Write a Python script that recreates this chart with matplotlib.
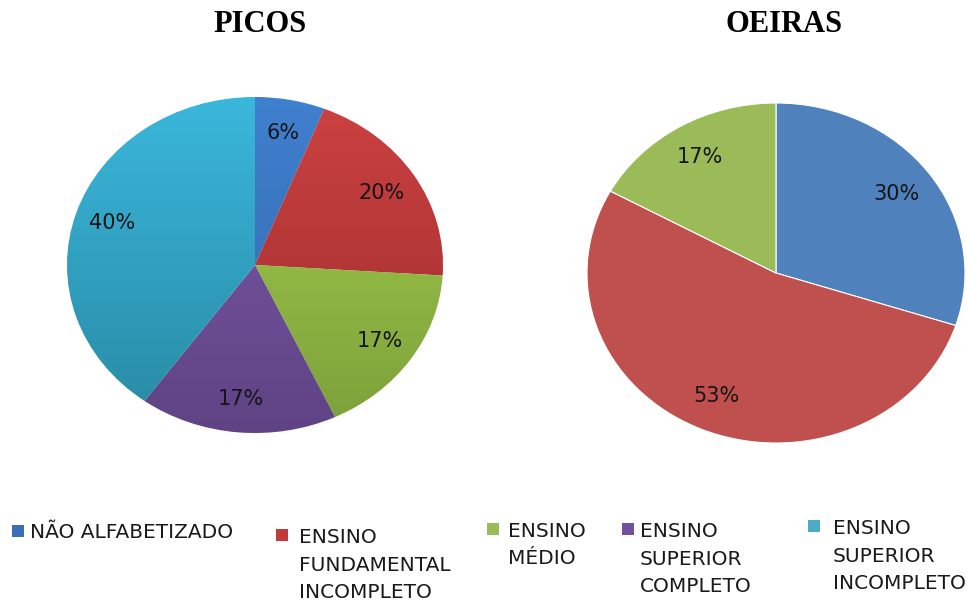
import matplotlib
matplotlib.use("Agg")
import matplotlib.pyplot as plt
import numpy as np
from matplotlib.patches import Rectangle
from matplotlib.colors import to_rgba

# ---- data ----
categories = ["NÃO ALFABETIZADO", "ENSINO\nFUNDAMENTAL\nINCOMPLETO", "ENSINO\nMÉDIO",
              "ENSINO\nSUPERIOR\nCOMPLETO", "ENSINO\nSUPERIOR\nINCOMPLETO"]
picos_values = [6, 20, 17, 17, 40]
oeiras_values = [30, 53, 17, 0, 0]
titles = ["PICOS", "OEIRAS"]

# ---- style ----
base_colors = ["#4F81BD", "#C0504D", "#9BBB59", "#8064A2", "#4BACC6"]
legend_colors = ["#3A6DB5", "#C23A3A", "#9BBB59", "#7050A0", "#4BACC6"]
grad_top = ["#3F80CF", "#CC4242", "#A6CE4E", "#7E5BAB", "#3AB7DC"]
grad_bot = ["#3366AA", "#9C2B2B", "#7CA03A", "#5F4384", "#2889A3"]

W, H = 967, 603
fig = plt.figure(figsize=(W / 100, H / 100), dpi=100)
fig.patch.set_facecolor("white")


def ax_px(left, top, right, bottom):
    return fig.add_axes([left / W, 1 - bottom / H, (right - left) / W, (bottom - top) / H])


def fpx(x, y):
    return x / W, 1 - y / H


label_font = dict(fontsize=15, color="#151515", family="DejaVu Sans")

# ---- PICOS ----
ax1 = ax_px(67, 97, 443, 433)
wedges1, texts1, auto1 = ax1.pie(
    picos_values, colors=base_colors, startangle=90, counterclock=False,
    autopct=lambda p: f"{p:.0f}%", pctdistance=0.8, radius=1,
    wedgeprops=dict(edgecolor="white", linewidth=0.8), textprops=label_font)
for i, w in enumerate(wedges1):
    top = np.array(to_rgba(grad_top[i]))
    bot = np.array(to_rgba(grad_bot[i]))
    t = np.linspace(0, 1, 256)[:, None]
    img = (top[None, :] * (1 - t) + bot[None, :] * t)[:, None, :]
    im = ax1.imshow(img, extent=(-1, 1, -1, 1), aspect="auto", zorder=w.get_zorder() + 0.1,
                    interpolation="bilinear")
    im.set_clip_path(w)
for a in auto1:
    a.set_zorder(5)
ax1.set_xlim(-1, 1)
ax1.set_ylim(-1, 1)
ax1.set_aspect("auto")
ax1.axis("off")

# ---- OEIRAS ----
ax2 = ax_px(587, 103, 965, 443)
o_vals = [v for v in oeiras_values if v > 0]
o_cols = [c for v, c in zip(oeiras_values, base_colors) if v > 0]
wedges2, texts2, auto2 = ax2.pie(
    o_vals, colors=o_cols, startangle=90, counterclock=False,
    autopct=lambda p: f"{p:.0f}%", pctdistance=0.79, radius=1,
    wedgeprops=dict(edgecolor="white", linewidth=0.8), textprops=label_font)
ax2.set_xlim(-1, 1)
ax2.set_ylim(-1, 1)
ax2.set_aspect("auto")
ax2.axis("off")

# ---- titles ----
fig.text(*fpx(260, 25), titles[0], ha="center", va="center", fontsize=22,
         fontweight="bold", family="Liberation Serif")
fig.text(*fpx(784, 25), titles[1], ha="center", va="center", fontsize=22,
         fontweight="bold", family="Liberation Serif")

# ---- legend (manual layout) ----
key_pos = [(12, 525), (276, 529), (487, 523), (622, 523), (808, 520)]
text_pos = [(30, 538), (299, 542), (508, 536), (640, 536), (833, 533)]
line_gap = 28
ks = 12
for i, cat in enumerate(categories):
    kx, ky = key_pos[i]
    fig.add_artist(Rectangle(fpx(kx, ky + ks), ks / W, ks / H, transform=fig.transFigure,
                             facecolor=legend_colors[i], edgecolor="none"))
    tx, ty = text_pos[i]
    nlines = cat.count("\n")
    fig.text(*fpx(tx, ty + nlines * line_gap), cat, ha="left", va="baseline", fontsize=14.5,
             color="#1a1a1a", family="DejaVu Sans", linespacing=1.56)

fig.savefig("out.png", dpi=100)
